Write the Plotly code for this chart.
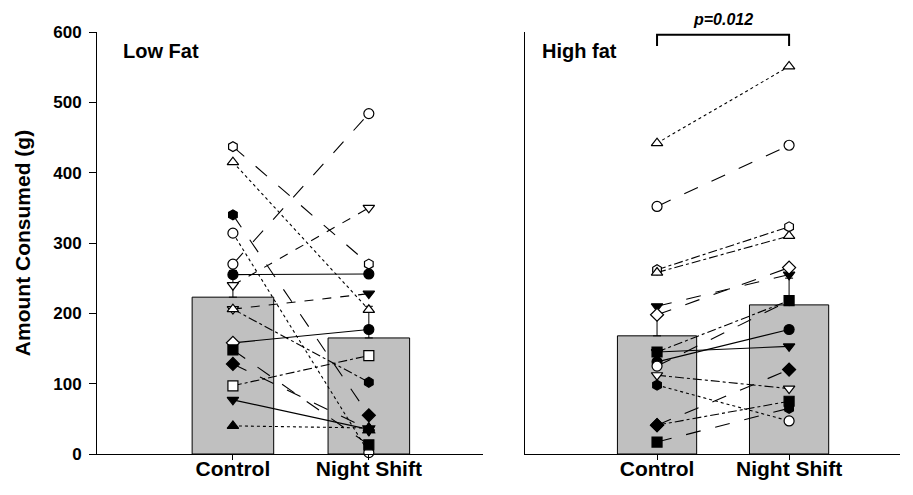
import plotly.graph_objects as go
from plotly.subplots import make_subplots

categories = ["Control", "Night Shift"]
y_ticks = [0, 100, 200, 300, 400, 500, 600]

# Bar means and upper error
lf_means = [223, 165]
lf_err = [38, 45]
hf_means = [168, 212]
hf_err = [32, 38]

# Low fat individual subjects: control, night shift
lf_control = [437, 415, 340, 314, 270, 255, 240, 206, 206, 158, 148, 128, 97, 77, 40]
lf_night = [270, 205, 55, 2, 484, 256, 350, 228, 102, 177, 13, 35, 140, 35, 37]
lf_sym_c = ["hexagon", "triangle-up", "hexagon", "circle", "circle", "circle", "triangle-down",
            "triangle-down", "triangle-up", "diamond", "square", "diamond", "square", "triangle-down", "triangle-up"]
lf_sym_n = ["hexagon", "triangle-up", "diamond", "circle", "circle", "circle", "triangle-down",
            "triangle-down", "hexagon", "circle", "square", "hexagram", "square", "hexagram", "triangle-up"]
lf_fill_c = [0, 0, 1, 0, 0, 1, 0, 0, 0, 0, 1, 1, 0, 1, 1]
lf_fill_n = [0, 0, 1, 0, 0, 1, 0, 1, 1, 1, 1, 1, 0, 1, 1]
lf_dash = ["longdash", "dot", "longdash", "dot", "longdash", "solid", "dash", "dash", "dashdot",
           "solid", "longdash", "longdash", "dashdot", "solid", "dot"]

# High fat individual subjects
hf_control = [442, 352, 262, 258, 210, 198, 145, 145, 131, 125, 112, 98, 41, 41, 17]
hf_night = [551, 439, 323, 310, 255, 265, 218, 153, 177, 218, 93, 47, 120, 75, 65]
hf_sym_c = ["triangle-up", "circle", "hexagon", "triangle-up", "triangle-down", "diamond", "square",
            "triangle-down", "circle", "circle", "triangle-down", "hexagon", "diamond", "diamond", "square"]
hf_sym_n = ["triangle-up", "circle", "hexagon", "triangle-up", "triangle-down", "diamond", "square",
            "triangle-down", "circle", "hexagon", "triangle-down", "circle", "diamond", "square", "hexagon"]
hf_fill_c = [0, 0, 0, 0, 1, 0, 1, 1, 1, 0, 0, 1, 1, 1, 1]
hf_fill_n = [0, 0, 0, 0, 1, 0, 1, 1, 1, 1, 0, 0, 1, 1, 1]
hf_dash = ["dot", "longdash", "dashdot", "dashdot", "longdash", "longdash", "dashdot", "solid",
           "solid", "longdash", "dashdot", "dot", "longdash", "dashdot", "longdash"]

FONT = "Arial, Liberation Sans, sans-serif"
xpos = [1, 2]

fig = make_subplots(rows=1, cols=2, horizontal_spacing=0.05)

def add_panel(col, means, err, ctrl, night, sc, sn, fc, fn, dash):
    fig.add_trace(go.Bar(
        x=xpos, y=means, width=0.6,
        marker=dict(color="#c0c0c0", line=dict(color="black", width=1)),
        error_y=dict(type="data", symmetric=False, array=err, arrayminus=[0, 0],
                     color="black", thickness=1, width=4),
        showlegend=False), row=1, col=col)
    for i in range(len(ctrl)):
        fig.add_trace(go.Scatter(
            x=xpos, y=[ctrl[i], night[i]], mode="lines+markers",
            line=dict(color="black", width=1.1, dash=dash[i]),
            marker=dict(symbol=[sc[i], sn[i]], size=10,
                        color=["black" if fc[i] else "white", "black" if fn[i] else "white"],
                        line=dict(color="black", width=1.2)),
            showlegend=False, cliponaxis=False), row=1, col=col)

add_panel(1, lf_means, lf_err, lf_control, lf_night, lf_sym_c, lf_sym_n, lf_fill_c, lf_fill_n, lf_dash)
add_panel(2, hf_means, hf_err, hf_control, hf_night, hf_sym_c, hf_sym_n, hf_fill_c, hf_fill_n, hf_dash)

xcommon = dict(range=[0, 2.84], tickvals=xpos, ticktext=[f"<b>{c}</b>" for c in categories],
               showline=True, linecolor="black", linewidth=1, ticks="outside", ticklen=5,
               tickcolor="black", showgrid=False, zeroline=False, automargin=False,
               ticklabelstandoff=-9,
               tickfont=dict(family=FONT, size=21, color="black"))
fig.update_xaxes(**xcommon)
fig.update_xaxes(domain=[0, 0.4807], row=1, col=1)
fig.update_xaxes(domain=[0.533, 1], row=1, col=2)

fig.update_yaxes(range=[0, 600], showline=True, linecolor="black", linewidth=1,
                 showgrid=False, zeroline=False, automargin=False)
fig.update_yaxes(tickvals=y_ticks, ticktext=[f"<b>{v}</b>" for v in y_ticks],
                 ticks="outside", ticklen=7, tickcolor="black", ticklabelstandoff=4,
                 tickfont=dict(family=FONT, size=17, color="black"),
                 title=dict(text="<b>Amount Consumed (g)</b>",
                            font=dict(family=FONT, size=21, color="black"), standoff=16),
                 row=1, col=1)
fig.update_yaxes(showticklabels=False, ticks="", row=1, col=2)

fig.add_annotation(x=0.176, y=573, xref="x", yref="y", text="<b>Low Fat</b>", showarrow=False,
                   xanchor="left", font=dict(family=FONT, size=20, color="black"))
fig.add_annotation(x=0.11, y=573, xref="x2", yref="y2", text="<b>High fat</b>", showarrow=False,
                   xanchor="left", font=dict(family=FONT, size=20, color="black"))
fig.add_annotation(x=1.5, y=598, xref="x2", yref="y2", text="<b><i>p=0.012</i></b>", showarrow=False,
                   yanchor="bottom", yshift=3, font=dict(family=FONT, size=16, color="black"))
fig.add_shape(type="path", xref="x2", yref="y2", path="M 1,580 L 1,596 L 2,596 L 2,580",
              line=dict(color="black", width=2))

fig.update_layout(width=913, height=495, margin=dict(l=97, r=13, t=32, b=41),
                  plot_bgcolor="white", paper_bgcolor="white", barmode="overlay")

fig.write_html("out.html", config={"displayModeBar": False},
               post_script="document.body.style.margin='0';document.body.style.overflow='hidden';")
